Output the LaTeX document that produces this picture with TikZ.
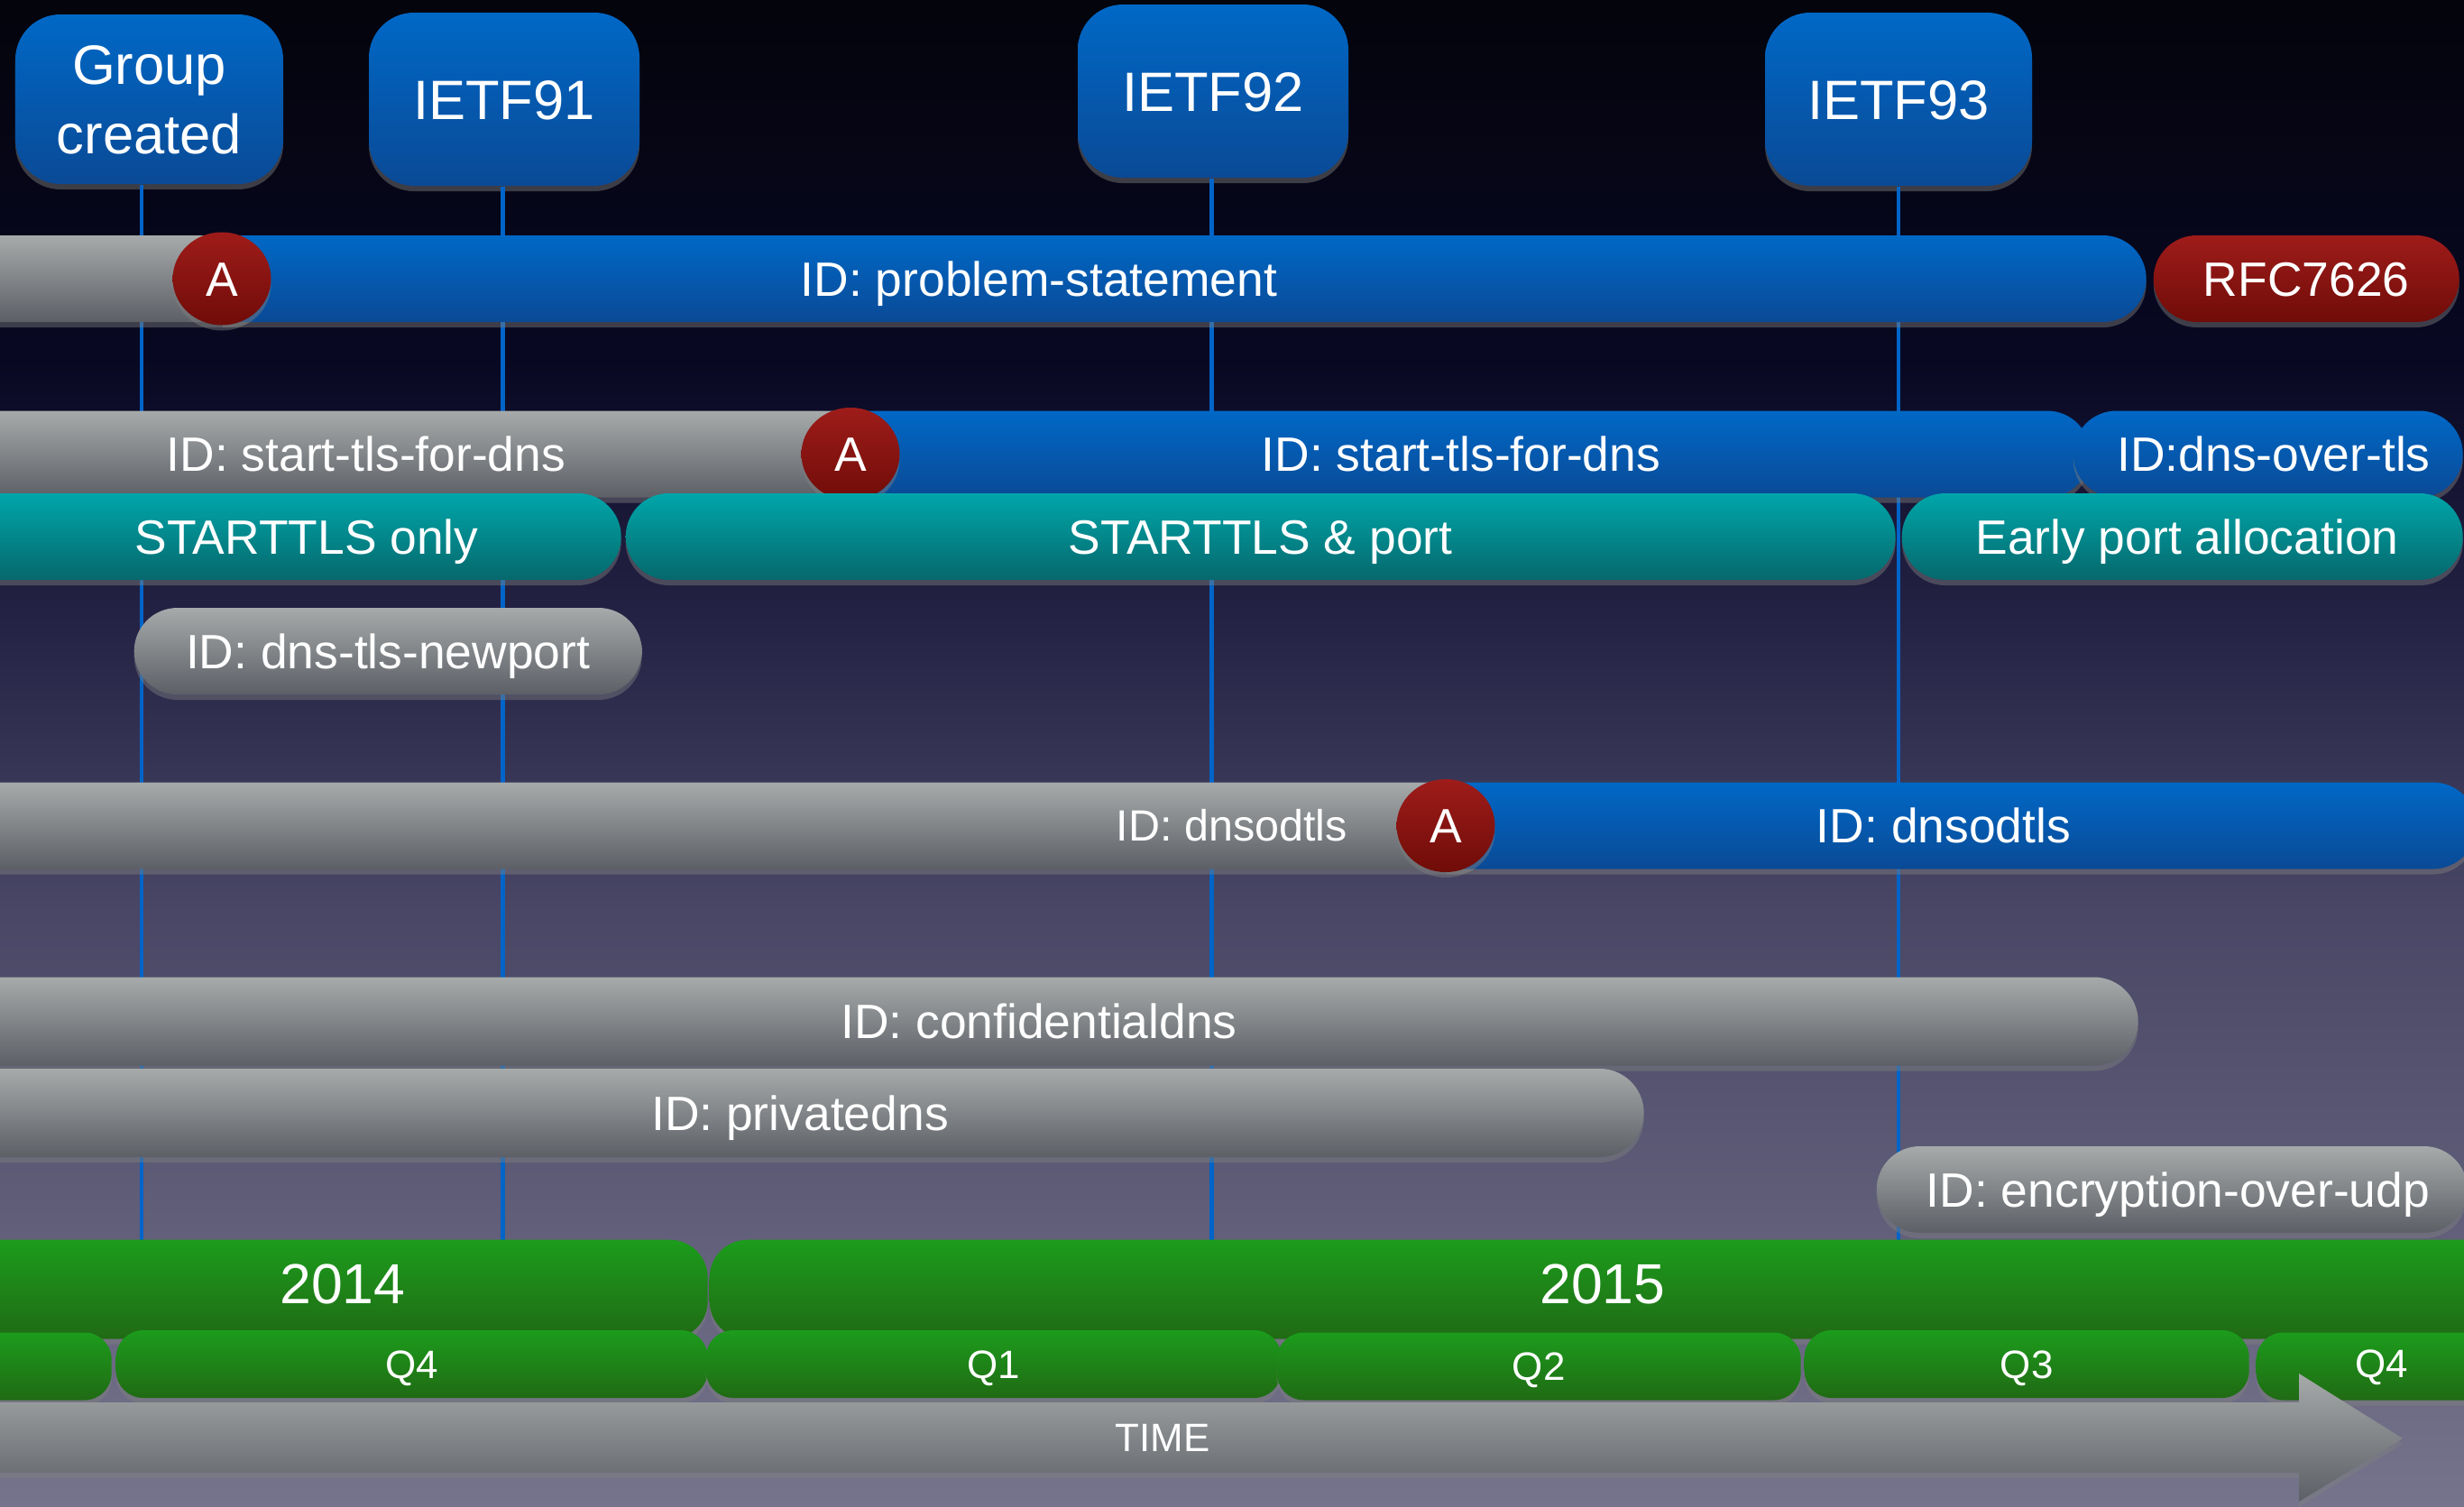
\documentclass[tikz,border=0pt]{standalone}
\usepackage{fontspec}
\setmainfont{Liberation Sans}
\usetikzlibrary{shapes.misc,shapes.geometric,shadows}
\definecolor{bgA}{RGB}{4,4,12}
\definecolor{bgB}{RGB}{8,8,35}
\definecolor{bgC}{RGB}{38,36,70}
\definecolor{bgD}{RGB}{72,70,100}
\definecolor{bgE}{RGB}{118,116,140}
\definecolor{greyT}{RGB}{166,170,170}
\definecolor{greyB}{RGB}{92,96,102}
\definecolor{blueT}{RGB}{0,104,198}
\definecolor{blueB}{RGB}{10,74,150}
\definecolor{redT}{RGB}{158,28,26}
\definecolor{redB}{RGB}{112,12,8}
\definecolor{tealT}{RGB}{0,166,170}
\definecolor{tealB}{RGB}{6,104,108}
\definecolor{greenT}{RGB}{28,156,28}
\definecolor{greenB}{RGB}{32,106,20}
\definecolor{lineblue}{RGB}{0,100,200}
\tikzset{
  shad/.style={drop shadow={opacity=0.45,shadow xshift=0pt,shadow yshift=-0.06cm}},
  greyfill/.style={top color=greyT,bottom color=greyB},
  bluefill/.style={top color=blueT,bottom color=blueB},
  redfill/.style={top color=redT,bottom color=redB},
  tealfill/.style={top color=tealT,bottom color=tealB},
  greenfill/.style={top color=greenT,bottom color=greenB},
  barbase/.style={shape=rounded rectangle,inner sep=0pt,minimum height=0.96cm,anchor=west,shad,
    text=white,font=\fontsize{15.2}{18}\selectfont,text height=0.383cm,text depth=0pt},
  noL/.style={rounded rectangle left arc=none},
  lab/.style={inner sep=0pt,text=white,font=\fontsize{15.2}{18}\selectfont,text height=0.383cm,text depth=0pt},
  smalllab/.style={inner sep=0pt,text=white,font=\fontsize{13.8}{16}\selectfont,text height=0.348cm,text depth=0pt},
  circA/.style={ellipse,inner sep=0pt,minimum width=1.09cm,minimum height=1.03cm,redfill,shad,
    text=white,font=\fontsize{15.2}{18}\selectfont,text height=0.383cm,text depth=0pt},
  topbox/.style={rectangle,rounded corners=0.5cm,bluefill,shad,text=white,align=center,inner sep=0pt,
    font=\fontsize{17.5}{21.9}\selectfont,text height=0.44cm,text depth=0pt},
  vline/.style={lineblue,line width=1.4pt},
  yearbox/.style={rectangle,rounded corners=0.42cm,greenfill,shad,anchor=north west,minimum height=1.1cm,inner sep=0pt},
  yearlab/.style={inner sep=0pt,text=white,font=\fontsize{17.8}{21}\selectfont,text height=0.45cm,text depth=0pt},
  qbox/.style={rectangle,rounded corners=0.3cm,greenfill,shad,anchor=west,minimum height=0.75cm,inner sep=0pt,
    text=white,font=\fontsize{12.5}{15}\selectfont,text height=0.315cm,text depth=0pt},
  qlab/.style={inner sep=0pt,text=white,font=\fontsize{12.5}{15}\selectfont,text height=0.315cm,text depth=0pt},
}
\begin{document}
\begin{tikzpicture}
\useasboundingbox (0,0) rectangle (27.32,-16.70);
\clip (0,0) rectangle (27.32,-16.70);
% background
\path[top color=bgA,bottom color=bgB] (0,0.01) rectangle (27.32,-4.01);
\path[top color=bgB,bottom color=bgC] (0,-4.0) rectangle (27.32,-7.01);
\path[top color=bgC,bottom color=bgD] (0,-7.0) rectangle (27.32,-10.01);
\path[top color=bgD,bottom color=bgE] (0,-10.0) rectangle (27.32,-16.71);

% top boxes
\node[topbox,minimum width=2.97cm,minimum height=1.88cm,text height=1.21cm] (gc) at (1.655,-1.10) {Group\\created};
\node[topbox,minimum width=3.00cm,minimum height=1.92cm] (i91) at (5.59,-1.10) {IETF91};
\node[topbox,minimum width=3.00cm,minimum height=1.92cm] (i92) at (13.45,-1.01) {IETF92};
\node[topbox,minimum width=2.96cm,minimum height=1.92cm] (i93) at (21.05,-1.10) {IETF93};

% vertical connectors
\coordinate (l0) at (1.57,-13.76);
\coordinate (l1) at (5.575,-13.76);
\coordinate (l2) at (13.435,-13.76);
\coordinate (l3) at (21.05,-13.76);
\draw[vline] (gc.south -| l0) -- (l0);
\draw[vline] (i91.south -| l1) -- (l1);
\draw[vline] (i92.south -| l2) -- (l2);
\draw[vline] (i93.south -| l3) -- (l3);

% row 1: problem statement
\node[barbase,greyfill,noL,minimum width=3.6cm] (psg) at (-0.6,-3.09) {};
\node[barbase,bluefill,noL,minimum width=21.33cm] (psb) at (2.46,-3.09) {};
\node[circA] (a1) at (2.46,-3.09) {A};
\node[lab] (psl) at (11.52,-3.09) {ID: problem-statement};
\node[barbase,redfill,minimum width=3.39cm] (rfc) at (23.87,-3.09) {RFC7626};

% row 2: start-tls-for-dns
\node[barbase,greyfill,noL,minimum width=10.6cm] (stg) at (-0.6,-5.035) {};
\node[lab] (stgl) at (4.06,-5.035) {ID: start-tls-for-dns};
\node[barbase,bluefill,noL,minimum width=13.74cm] (stb) at (9.43,-5.035) {};
\node[lab] (stbl) at (16.20,-5.035) {ID: start-tls-for-dns};
\node[barbase,bluefill,minimum width=4.32cm] (dot) at (22.98,-5.035) {};
\node[lab] (dotl) at (25.21,-5.035) {ID:dns-over-tls};
\node[circA] (a2) at (9.43,-5.035) {A};

% teal row
\node[barbase,tealfill,noL,minimum width=7.48cm] (so) at (-0.6,-5.95) {};
\node[lab] (sol) at (3.40,-5.95) {STARTTLS only};
\node[barbase,tealfill,minimum width=14.08cm] (sp) at (6.93,-5.95) {STARTTLS \& port};
\node[barbase,tealfill,minimum width=6.22cm] (ep) at (21.08,-5.95) {};
\node[lab] (epl) at (24.25,-5.95) {Early port allocation};

% dns-tls-newport
\node[barbase,greyfill,minimum width=5.63cm] (np) at (1.48,-7.22) {ID: dns-tls-newport};

% dnsodtls
\node[barbase,greyfill,noL,minimum width=17.2cm] (dg) at (-0.6,-9.155) {};
\node[smalllab] (dgl) at (13.66,-9.155) {ID: dnsodtls};
\node[barbase,bluefill,noL,minimum width=11.42cm] (db) at (16.03,-9.155) {};
\node[lab] (dbl) at (21.55,-9.155) {ID: dnsodtls};
\node[circA] (a3) at (16.03,-9.155) {A};

% confidentialdns, privatedns, encryption-over-udp
\node[barbase,greyfill,noL,minimum width=24.3cm,minimum height=0.98cm] (cf) at (-0.6,-11.325) {};
\node[lab] (cfl) at (11.52,-11.325) {ID: confidentialdns};
\node[barbase,greyfill,noL,minimum width=18.82cm,minimum height=0.98cm] (pv) at (-0.6,-12.34) {};
\node[lab] (pvl) at (8.87,-12.34) {ID: privatedns};
\node[barbase,greyfill,minimum width=6.55cm] (eu) at (20.80,-13.19) {};
\node[lab] (eul) at (24.15,-13.19) {ID: encryption-over-udp};

% years
\node[yearbox,minimum width=8.44cm] (y14) at (-0.6,-13.74) {};
\node[yearlab] (y14l) at (3.80,-14.23) {2014};
\node[yearbox,minimum width=20.1cm] (y15) at (7.86,-13.74) {};
\node[yearlab] (y15l) at (17.77,-14.23) {2015};

% quarters
\node[qbox,minimum width=1.83cm] (q0) at (-0.6,-15.15) {};
\node[qbox,minimum width=6.56cm] (q4a) at (1.28,-15.125) {Q4};
\node[qbox,minimum width=6.38cm] (q1) at (7.82,-15.125) {Q1};
\node[qbox,minimum width=5.81cm] (q2) at (14.15,-15.15) {Q2};
\node[qbox,minimum width=4.93cm] (q3) at (20.00,-15.125) {Q3};
\node[qbox,minimum width=2.90cm] (q4b) at (25.01,-15.15) {};

% time arrow
\path[greyfill,shad] (-0.6,-15.55) -- (25.49,-15.55) -- (25.49,-15.23) -- (26.64,-15.95)
  -- (25.49,-16.65) -- (25.49,-16.33) -- (-0.6,-16.33) -- cycle;
\node[qlab] (q4bl) at (26.41,-15.12) {Q4};
\node[qlab] (time) at (12.89,-15.94) {TIME};
\end{tikzpicture}
\end{document}
